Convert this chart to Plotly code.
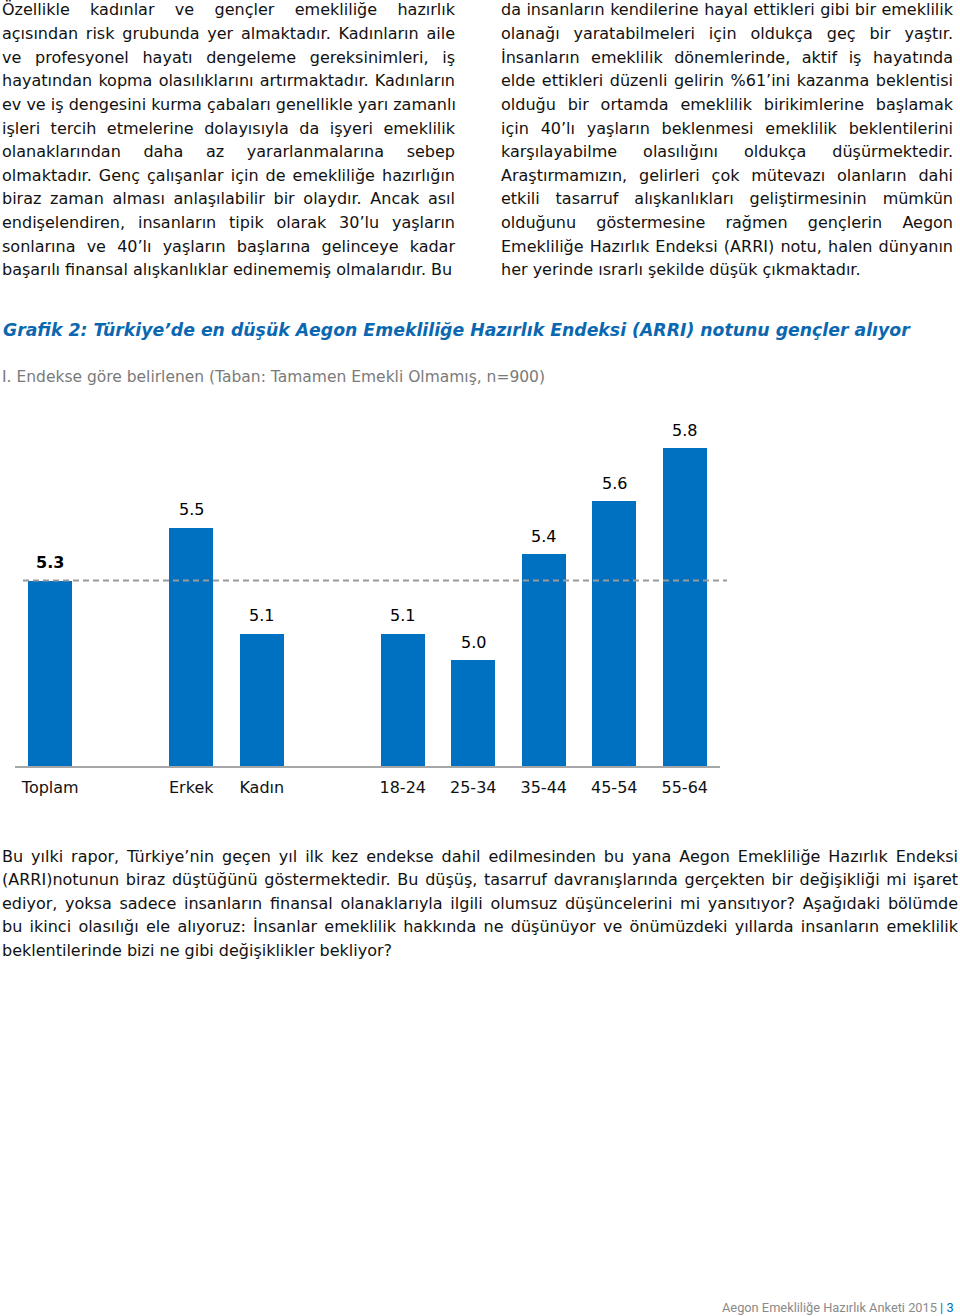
import json
import plotly.graph_objects as go

# ---------------- data ----------------
group_labels = [["Toplam"], ["Erkek", "Kadın"], ["18-24", "25-34", "35-44", "45-54", "55-64"]]
values = [5.3, 5.5, 5.1, 5.1, 5.0, 5.4, 5.6, 5.8]
reference_value = 5.3  # Toplam average (dashed line)

title_text = "Grafik 2: Türkiye’de en düşük Aegon Emekliliğe Hazırlık Endeksi (ARRI) notunu gençler alıyor"
subtitle_text = "I. Endekse göre belirlenen (Taban: Tamamen Emekli Olmamış, n=900)"

left_col = [
    "Özellikle kadınlar ve gençler emekliliğe hazırlık",
    "açısından risk grubunda yer almaktadır. Kadınların aile",
    "ve profesyonel hayatı dengeleme gereksinimleri, iş",
    "hayatından kopma olasılıklarını artırmaktadır. Kadınların",
    "ev ve iş dengesini kurma çabaları genellikle yarı zamanlı",
    "işleri tercih etmelerine dolayısıyla da işyeri emeklilik",
    "olanaklarından daha az yararlanmalarına sebep",
    "olmaktadır. Genç çalışanlar için de emekliliğe hazırlığın",
    "biraz zaman alması anlaşılabilir bir olaydır. Ancak asıl",
    "endişelendiren, insanların tipik olarak 30’lu yaşların",
    "sonlarına ve 40’lı yaşların başlarına gelinceye kadar",
    "başarılı finansal alışkanlıklar edinememiş olmalarıdır. Bu",
]
right_col = [
    "da insanların kendilerine hayal ettikleri gibi bir emeklilik",
    "olanağı yaratabilmeleri için oldukça geç bir yaştır.",
    "İnsanların emeklilik dönemlerinde, aktif iş hayatında",
    "elde ettikleri düzenli gelirin %61’ini kazanma beklentisi",
    "olduğu bir ortamda emeklilik birikimlerine başlamak",
    "için 40’lı yaşların beklenmesi emeklilik beklentilerini",
    "karşılayabilme olasılığını oldukça düşürmektedir.",
    "Araştırmamızın, gelirleri çok mütevazı olanların dahi",
    "etkili tasarruf alışkanlıkları geliştirmesinin mümkün",
    "olduğunu göstermesine rağmen gençlerin Aegon",
    "Emekliliğe Hazırlık Endeksi (ARRI) notu, halen dünyanın",
    "her yerinde ısrarlı şekilde düşük çıkmaktadır.",
]
bottom_par = [
    "Bu yılki rapor, Türkiye’nin geçen yıl ilk kez endekse dahil edilmesinden bu yana Aegon Emekliliğe Hazırlık Endeksi",
    "(ARRI)notunun biraz düştüğünü göstermektedir. Bu düşüş, tasarruf davranışlarında gerçekten bir değişikliği mi işaret",
    "ediyor, yoksa sadece insanların finansal olanaklarıyla ilgili olumsuz düşüncelerini mi yansıtıyor? Aşağıdaki bölümde",
    "bu ikinci olasılığı ele alıyoruz: İnsanlar emeklilik hakkında ne düşünüyor ve önümüzdeki yıllarda insanların emeklilik",
    "beklentilerinde bizi ne gibi değişiklikler bekliyor?",
]
footer_text = "Aegon Emekliliğe Hazırlık Anketi 2015"
footer_page = "3"

# ---------------- layout helpers ----------------
W, H = 960, 1316
BAR_COLOR = "#0070c0"
TITLE_COLOR = "#0b68b0"
FONT = "DejaVu Sans"
TEXT_COLOR = "#111111"


def py(ypx):
    return 1 - ypx / H


def px(xpx):
    return xpx / W


# category positions: one empty slot between groups
categories, xpos = [], []
pos = 0
for grp in group_labels:
    for lab in grp:
        categories.append(lab)
        xpos.append(pos)
        pos += 1
    pos += 1

fig = go.Figure()
fig.add_trace(go.Bar(
    x=xpos, y=values, width=0.62,
    marker=dict(color=BAR_COLOR, line=dict(width=0)),
    hoverinfo="skip", showlegend=False,
))

# value labels
for i, (xv, v) in enumerate(zip(xpos, values)):
    fig.add_annotation(
        x=xv, y=v, xref="x", yref="y", text=f"{v:.1f}" if i else f"<b>{v:.1f}</b>",
        showarrow=False, yanchor="middle", yshift=18,
        font=dict(family=FONT, size=16, color="#000"),
    )

# dashed reference line (average)
fig.add_shape(type="line", xref="paper", yref="y", x0=px(23), x1=px(727),
              y0=reference_value, y1=reference_value,
              line=dict(color="#9a9a9a", width=2, dash="6px,4px"), layer="above")

annotations = []
annotations.append(dict(x=px(2), y=py(330), text=f"<b><i>{title_text}</i></b>",
                        font=dict(family=FONT, size=17.3, color=TITLE_COLOR)))
annotations.append(dict(x=px(1), y=py(377), text=subtitle_text,
                        font=dict(family=FONT, size=15.5, color="#7a7a7a")))

LINE_H = 23.6
justify = {}  # text -> target width (px)


def add_par(lines, x0, x1, y0):
    for i, t in enumerate(lines):
        annotations.append(dict(x=px(x0), y=py(y0 + i * LINE_H), text=t,
                                font=dict(family=FONT, size=16, color=TEXT_COLOR)))
        if i < len(lines) - 1:
            justify[t] = x1 - x0


add_par(left_col, 1, 454, 10)
add_par(right_col, 500, 952, 10)
add_par(bottom_par, 1, 957, 856)

for a in annotations:
    a.update(xref="paper", yref="paper", xanchor="left", yanchor="middle",
             showarrow=False, align="left", borderpad=0)
    fig.add_annotation(**a)

fig.add_annotation(x=px(955), y=py(1307), xref="paper", yref="paper",
                   xanchor="right", yanchor="middle", showarrow=False, borderpad=0,
                   text=f"{footer_text} <span style='color:{BAR_COLOR}'>| {footer_page}</span>",
                   font=dict(family="Roboto", size=12.8, color="#8a8a8a"))

fig.update_layout(
    width=W, height=H, margin=dict(l=0, r=0, t=0, b=0),
    paper_bgcolor="white", plot_bgcolor="white",
    bargap=0,
    xaxis=dict(domain=[px(15), px(720)], range=[-0.5, 9.5],
               tickvals=xpos, ticktext=categories,
               tickfont=dict(family=FONT, size=16, color=TEXT_COLOR),
               showline=True, linecolor="#a6a6a6", linewidth=2,
               showgrid=False, zeroline=False, ticks="",
               ticklabelstandoff=6, fixedrange=True),
    yaxis=dict(domain=[py(766), py(395)], range=[4.6, 6.0],
               visible=False, showgrid=False, zeroline=False, fixedrange=True),
)

post_js = """
document.body.style.margin = '0';
document.body.style.padding = '0';
var J = %s;
document.querySelectorAll('text.annotation-text').forEach(function (t) {
  var s = t.textContent;
  if (!(s in J)) return;
  var n = (s.match(/ /g) || []).length;
  if (!n) return;
  var L = t.getComputedTextLength();
  var w = J[s];
  if (L < w) t.style.wordSpacing = ((w - L) / n) + 'px';
});
""" % json.dumps(justify, ensure_ascii=False)

fig.write_html("out.html", post_script=post_js,
               config={"displayModeBar": False, "staticPlot": True})
